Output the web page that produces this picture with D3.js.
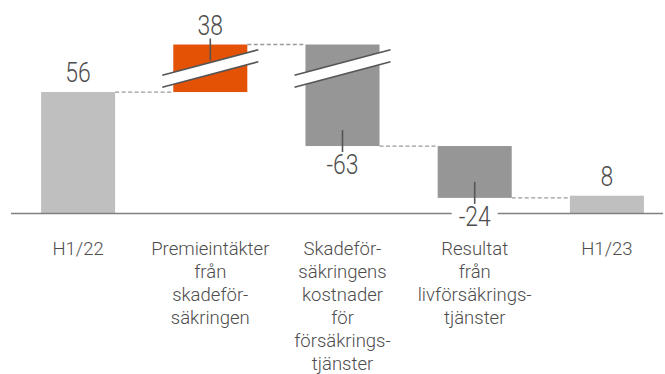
<!DOCTYPE html>
<html>
<head>
<meta charset="utf-8">
<script src="https://cdn.jsdelivr.net/npm/d3@7"></script>
<style>
  html, body { margin: 0; padding: 0; background: #fff; }
  svg { display: block; }
  text { font-family: Roboto, "Open Sans", sans-serif; font-weight: 300; fill: #4d4d4d; }
</style>
</head>
<body>
<svg id="chart" width="665" height="374"></svg>
<script>
// Waterfall: H1/22 result, changes, H1/23 result
const categories = [
  ["H1/22"],
  ["Premieintäkter", "från", "skadeför-", "säkringen"],
  ["Skadeför-", "säkringens", "kostnader", "för", "försäkrings-", "tjänster"],
  ["Resultat", "från", "livförsäkrings-", "tjänster"],
  ["H1/23"]
];
const values = [56, 38, -63, -24, 8];
const kinds = ["total", "change", "change", "change", "total"];
// Bars that pass through the cut in the value axis
const brokenBars = [1, 2];
// Value range hidden by the axis break
const breakFrom = 67, breakTo = 83;

const colors = { total: "#bfbfbf", up: "#e35205", down: "#969696" };

const svg = d3.select("#chart");

const x = d3.scaleBand()
  .domain(d3.range(values.length))
  .range([12, 673])
  .paddingInner(0.44)
  .paddingOuter(0.22);

const k = 2.16, y0 = 213;
// Piecewise scale collapsing the broken interval
const y = d3.scaleLinear()
  .domain([0, breakFrom, breakTo, 120])
  .range([y0, y0 - breakFrom * k, y0 - breakFrom * k, y0 - (breakFrom + 120 - breakTo) * k]);

// Running totals for floating bars
let run = 0;
const bars = values.map((v, i) => {
  let lo, hi;
  if (kinds[i] === "total") { lo = 0; hi = v; run = v; }
  else { const s = run; run = s + v; lo = Math.min(s, run); hi = Math.max(s, run); }
  return { i, v, lo, hi, end: kinds[i] === "total" ? v : run, kind: kinds[i] };
});

const bw = x.bandwidth();
const cx = i => x(i) + bw / 2;

// Connectors between consecutive bars
const conn = svg.append("g");
bars.slice(0, -1).forEach(b => {
  const level = b.end;
  conn.append("line")
    .attr("x1", x(b.i) + bw).attr("x2", x(b.i + 1))
    .attr("y1", y(level)).attr("y2", y(level))
    .attr("stroke", "#9a9a9a").attr("stroke-width", 1.3)
    .attr("stroke-dasharray", "4,2.5");
});

// Bars
svg.append("g").selectAll("rect").data(bars).join("rect")
  .attr("x", d => x(d.i))
  .attr("width", bw)
  .attr("y", d => y(d.hi))
  .attr("height", d => y(d.lo) - y(d.hi))
  .attr("fill", d => d.kind === "total" ? colors.total : (d.v > 0 ? colors.up : colors.down));

// Axis break marks
const slope = -0.266, half = bw / 2 + 11, gap = 6;
const brk = svg.append("g");
brokenBars.forEach(i => {
  const c = cx(i), yc = y(breakFrom) + 0.2;
  const xa = c - half, xb = c + half;
  const ya = yc - slope * half, yb = yc + slope * half;
  brk.append("polygon")
    .attr("points", [[xa, ya - gap], [xb, yb - gap], [xb, yb + gap], [xa, ya + gap]].map(p => p.join(",")).join(" "))
    .attr("fill", "#fff");
  [-gap, gap].forEach(o => {
    brk.append("line")
      .attr("x1", xa).attr("y1", ya + o).attr("x2", xb).attr("y2", yb + o)
      .attr("stroke", "#555").attr("stroke-width", 1.6);
  });
});

// Baseline
svg.append("line")
  .attr("x1", 11).attr("x2", 663)
  .attr("y1", y(0) + 0.5).attr("y2", y(0) + 0.5)
  .attr("stroke", "#808080").attr("stroke-width", 1.6);

// Value labels
const labG = svg.append("g");
bars.forEach(b => {
  const neg = b.v < 0;
  const yb = neg ? y(b.lo) + 28 : y(b.hi) - 10;
  const g = labG.append("g").attr("transform", `translate(${cx(b.i)},${yb})`);
  if (neg) {
    g.append("rect").attr("x", -23).attr("y", -24).attr("width", 46).attr("height", 26).attr("fill", "#fff");
  }
  g.append("text")
    .attr("text-anchor", "middle")
    .attr("font-size", 28)
    .attr("transform", "scale(0.82,1)")
    .text(String(b.v));
  if (b.kind === "change") {
    const edge = neg ? y(b.lo) : y(b.hi);
    const t1 = neg ? edge - 16 : edge - 6, t2 = neg ? edge + 6 : edge + 16;
    labG.append("line")
      .attr("x1", cx(b.i)).attr("x2", cx(b.i))
      .attr("y1", t1).attr("y2", t2)
      .attr("stroke", "#555").attr("stroke-width", 1.6);
  }
});

// Category labels
const catG = svg.append("g");
categories.forEach((lines, i) => {
  lines.forEach((s, j) => {
    catG.append("text")
      .attr("x", cx(i))
      .attr("y", 255 + j * 23)
      .attr("text-anchor", "middle")
      .attr("font-size", 18.5)
      .text(s);
  });
});
</script>
</body>
</html>
